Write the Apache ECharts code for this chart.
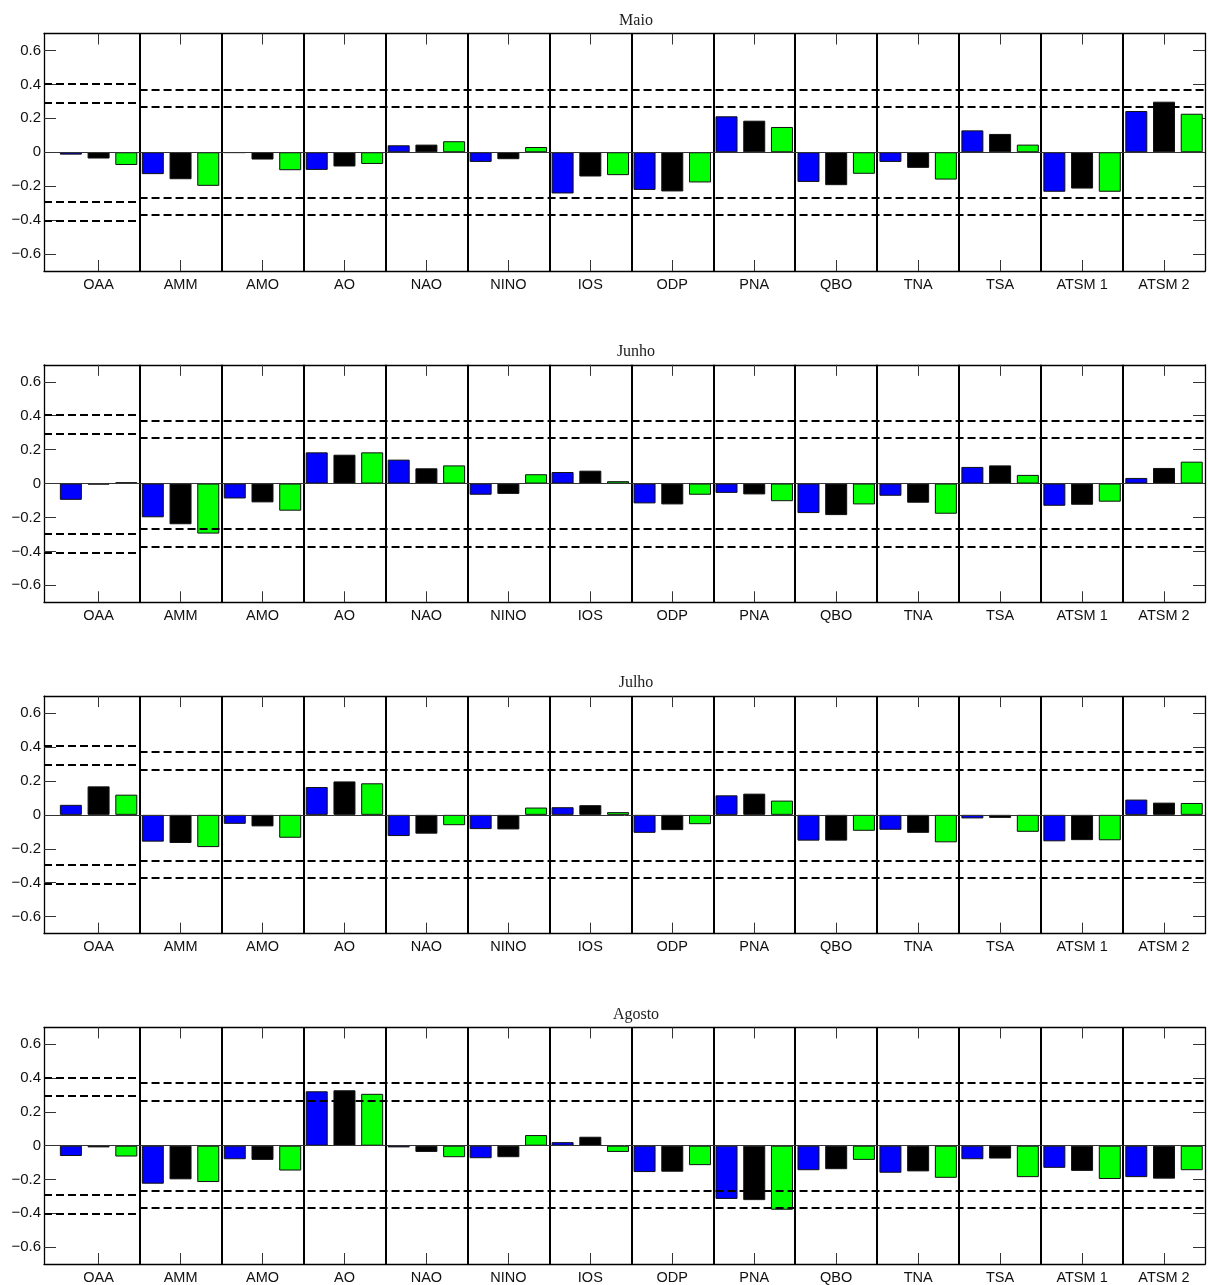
<!DOCTYPE html>
<html>
<head>
<meta charset="utf-8">
<title>Correlações mensais por índice climático</title>
<script src="https://cdn.jsdelivr.net/npm/echarts@6/dist/echarts.min.js"></script>
<style>
  html, body { margin: 0; padding: 0; background: #fff; }
  #chart { width: 1208px; height: 1285px; }
</style>
</head>
<body>
<div id="chart"></div>
<script>
// Climate indices on the horizontal axis
const categories = ['OAA', 'AMM', 'AMO', 'AO', 'NAO', 'NINO', 'IOS', 'ODP', 'PNA', 'QBO', 'TNA', 'TSA', 'ATSM 1', 'ATSM 2'];
const months = ['Maio', 'Junho', 'Julho', 'Agosto'];

// Correlation values, one array per month and per series (blue, black, green)
const maioBlue   = [-0.014, -0.129, -0.004, -0.104, 0.041, -0.057, -0.243, -0.222, 0.212, -0.175, -0.057, 0.129, -0.233, 0.243];
const maioBlack  = [-0.037, -0.159, -0.043, -0.084, 0.045, -0.041, -0.143, -0.231, 0.186, -0.194, -0.092, 0.108, -0.214, 0.298];
const maioGreen  = [-0.075, -0.198, -0.106, -0.069, 0.065, 0.031, -0.135, -0.178, 0.149, -0.127, -0.161, 0.045, -0.233, 0.227];

const junhoBlue  = [-0.096, -0.199, -0.088, 0.184, 0.141, -0.066, 0.068, -0.117, -0.055, -0.174, -0.072, 0.098, -0.131, 0.033];
const junhoBlack = [-0.006, -0.240, -0.111, 0.170, 0.090, -0.061, 0.076, -0.123, -0.064, -0.186, -0.113, 0.107, -0.125, 0.092];
const junhoGreen = [0.008, -0.295, -0.160, 0.184, 0.107, 0.055, 0.014, -0.066, -0.104, -0.123, -0.178, 0.051, -0.107, 0.129];

const julhoBlue  = [0.059, -0.158, -0.053, 0.164, -0.125, -0.084, 0.045, -0.106, 0.115, -0.152, -0.088, -0.021, -0.156, 0.090];
const julhoBlack = [0.168, -0.166, -0.068, 0.197, -0.111, -0.086, 0.057, -0.090, 0.125, -0.152, -0.106, -0.018, -0.149, 0.072];
const julhoGreen = [0.119, -0.190, -0.135, 0.186, -0.061, 0.043, 0.016, -0.055, 0.084, -0.094, -0.162, -0.100, -0.150, 0.070];

const agostoBlue  = [-0.061, -0.225, -0.080, 0.322, -0.010, -0.074, 0.021, -0.156, -0.315, -0.145, -0.160, -0.080, -0.131, -0.186];
const agostoBlack = [-0.010, -0.199, -0.084, 0.328, -0.037, -0.068, 0.053, -0.154, -0.322, -0.139, -0.152, -0.076, -0.149, -0.195];
const agostoGreen = [-0.064, -0.215, -0.147, 0.307, -0.068, 0.063, -0.037, -0.115, -0.379, -0.084, -0.190, -0.186, -0.197, -0.145];

// Significance thresholds (|r|): OAA has its own pair, the other indices share one
const sigOAA   = [0.293, 0.405];
const sigOther = [0.268, 0.370];

// Y-axis tick values
const yTicks = [-0.6, -0.4, -0.2, 0, 0.2, 0.4, 0.6];

const monthData = [
  [maioBlue, maioBlack, maioGreen],
  [junhoBlue, junhoBlack, junhoGreen],
  [julhoBlue, julhoBlack, julhoGreen],
  [agostoBlue, agostoBlack, agostoGreen]
];
const seriesColors = ['#0000ff', '#000000', '#00ff00'];

// Layout of the four stacked panels
const X_MIN = 0.334, X_MAX = 14.5;
const PANEL_TOP = 33.5, PANEL_STEP = 331.3, PANEL_H = 237.5;
const PANEL_LEFT = 44, PANEL_RIGHT = 3;

const catPositions = categories.map((c, i) => i + 1);
const boundaries = categories.slice(1).map((c, i) => i + 1.5);

const fmtY = v => {
  if (Math.abs(v) < 1e-9) return '0';
  return (v < 0 ? '\u2212' : '') + Math.abs(v).toFixed(1);
};

const grids = [], xAxes = [], yAxes = [], series = [], titles = [];

months.forEach((m, k) => {
  const top = PANEL_TOP + k * PANEL_STEP;
  grids.push({ left: PANEL_LEFT, right: PANEL_RIGHT, top: top, height: PANEL_H, containLabel: false });

  titles.push({
    text: m,
    left: 631,
    top: top - 26,
    textAlign: 'center',
    textStyle: { fontFamily: 'Liberation Serif', fontWeight: 'normal', fontSize: 16, color: '#222' }
  });

  const axisLine = { show: true, onZero: false, lineStyle: { color: '#000', width: 1.3 } };
  const tickStyle = { color: '#333', width: 1 };

  // bottom axis: index names
  xAxes.push({
    type: 'value', gridIndex: k, position: 'bottom', min: X_MIN, max: X_MAX,
    axisLine: axisLine,
    axisTick: { show: true, inside: true, length: 11, customValues: catPositions, lineStyle: tickStyle },
    axisLabel: {
      show: true, customValues: catPositions, margin: 6,
      formatter: v => categories[Math.round(v) - 1] || '',
      fontFamily: 'Liberation Sans', fontSize: 14.5, color: '#111'
    },
    splitLine: { show: false }
  });
  // top axis: frame and ticks only
  xAxes.push({
    type: 'value', gridIndex: k, position: 'top', min: X_MIN, max: X_MAX,
    axisLine: axisLine,
    axisTick: { show: true, inside: true, length: 11, customValues: catPositions, lineStyle: tickStyle },
    axisLabel: { show: false },
    splitLine: { show: false }
  });
  // left axis with labels
  yAxes.push({
    type: 'value', gridIndex: k, position: 'left', min: -0.7, max: 0.7,
    axisLine: axisLine,
    axisTick: { show: true, inside: true, length: 12, customValues: yTicks, lineStyle: tickStyle },
    axisLabel: {
      show: true, customValues: yTicks, margin: 3, formatter: fmtY,
      fontFamily: 'Liberation Sans', fontSize: 15, color: '#111'
    },
    splitLine: { show: false }
  });
  // right axis: frame and ticks only
  yAxes.push({
    type: 'value', gridIndex: k, position: 'right', min: -0.7, max: 0.7,
    axisLine: axisLine,
    axisTick: { show: true, inside: true, length: 12, customValues: yTicks, lineStyle: tickStyle },
    axisLabel: { show: false },
    splitLine: { show: false }
  });

  const xIdx = 2 * k, yIdx = 2 * k;

  // reference lines: category separators, zero baseline, significance levels
  const lines = [];
  boundaries.forEach(b => lines.push({ xAxis: b, lineStyle: { color: '#000', width: 2, type: 'solid' } }));
  lines.push({ yAxis: 0, lineStyle: { color: '#333', width: 1, type: 'solid' } });
  const dash = { color: '#000', width: 2, type: [8, 4] };
  sigOAA.forEach(s => [s, -s].forEach(v => {
    lines.push([{ coord: [X_MIN, v], lineStyle: dash }, { coord: [boundaries[0], v] }]);
  }));
  sigOther.forEach(s => [s, -s].forEach(v => {
    lines.push([{ coord: [boundaries[0], v], lineStyle: dash }, { coord: [X_MAX, v] }]);
  }));

  series.push({
    type: 'line', xAxisIndex: xIdx, yAxisIndex: yIdx, data: [], silent: true, z: 1,
    markLine: { silent: true, symbol: 'none', label: { show: false }, animation: false, data: lines }
  });

  monthData[k].forEach((vals, s) => {
    series.push({
      type: 'bar', name: 'serie' + (s + 1), xAxisIndex: xIdx, yAxisIndex: yIdx,
      data: vals.map((v, i) => [catPositions[i], v]),
      barWidth: 22, barGap: '26%',
      itemStyle: { color: seriesColors[s], borderColor: '#111', borderWidth: 1 },
      z: 3, animation: false
    });
  });
});

const chart = echarts.init(document.getElementById('chart'), null, { renderer: 'canvas' });
chart.setOption({
  backgroundColor: '#fff',
  animation: false,
  title: titles,
  grid: grids,
  xAxis: xAxes,
  yAxis: yAxes,
  series: series
});
</script>
</body>
</html>
